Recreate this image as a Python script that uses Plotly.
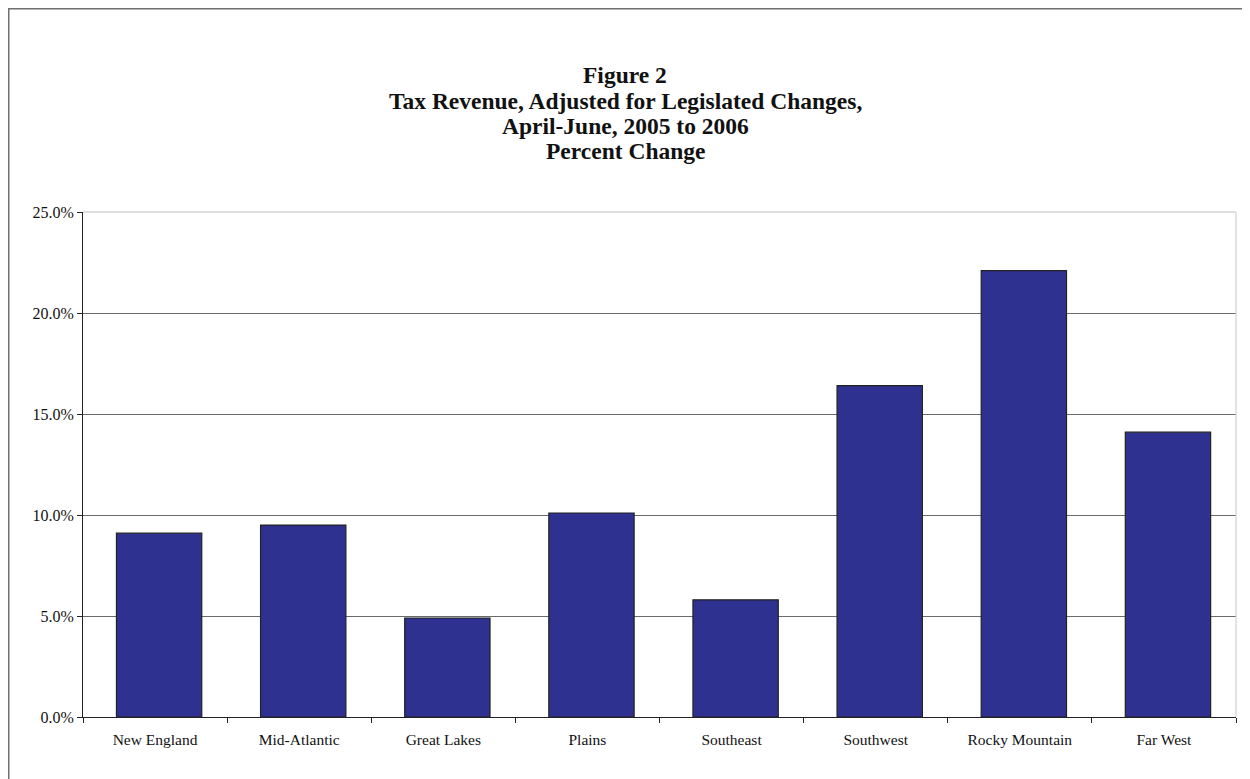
import plotly.graph_objects as go

regions = ["New England", "Mid-Atlantic", "Great Lakes", "Plains", "Southeast",
           "Southwest", "Rocky Mountain", "Far West"]
pct_change = [9.1, 9.5, 4.9, 10.1, 5.8, 16.4, 22.1, 14.1]
y_ticks = [0, 5, 10, 15, 20, 25]
y_tick_labels = ["0.0%", "5.0%", "10.0%", "15.0%", "20.0%", "25.0%"]

title_lines = ["Figure 2",
               "Tax Revenue, Adjusted for Legislated Changes,",
               "April-June, 2005 to 2006",
               "Percent Change"]

# page body has an 8px margin, so the figure is sized to fit the window
W, H = 1242, 771
ML, MR, MT, MB = 75, 14, 204, 62
pw, ph = W - ML - MR, H - MT - MB

fig = go.Figure()
fig.add_trace(go.Bar(
    x=regions, y=pct_change,
    width=0.592, offset=-0.268,
    marker=dict(color="#2E3190", line=dict(color="#222222", width=1.2)),
    hoverinfo="x+y",
))

SERIF = "Liberation Serif, Times New Roman, serif"
fig.update_layout(
    width=W, height=H,
    margin=dict(l=ML, r=MR, t=MT, b=MB),
    paper_bgcolor="white", plot_bgcolor="white",
    font=dict(family=SERIF, color="#111111", size=16),
    showlegend=False,
)

# title lines (tight single spacing, centred on the page as in the original)
line_y = [67, 92.5, 118, 143.5]  # figure-pixel centres
title_cx = 617                    # figure-pixel x centre
for txt, yy in zip(title_lines, line_y):
    fig.add_annotation(
        text="<b>" + txt + "</b>", showarrow=False,
        xref="paper", x=(title_cx - ML) / pw, xanchor="center",
        yref="paper", y=1 + (MT - yy) / ph, yanchor="middle",
        font=dict(family=SERIF, size=23.5, color="#111111"),
    )

fig.update_xaxes(
    type="category", tickson="boundaries", ticks="outside", ticklen=5,
    tickcolor="#222222", showline=True, linecolor="#222222", linewidth=1,
    showgrid=False, tickfont=dict(size=15.5), ticklabelstandoff=8,
)
fig.update_yaxes(
    range=[0, 25], tickvals=y_ticks, ticktext=y_tick_labels,
    ticks="outside", ticklen=5, tickcolor="#222222",
    showline=True, linecolor="#222222", linewidth=1,
    showgrid=True, gridcolor="#6a6a6a", gridwidth=1,
    zeroline=False, tickfont=dict(size=16),
)

# plot area right/top border (light gray)
fig.add_shape(type="line", xref="paper", yref="paper", x0=1, x1=1, y0=0, y1=1,
              line=dict(color="#c8c8c8", width=1))
fig.add_shape(type="line", xref="paper", yref="paper", x0=0, x1=1, y0=1, y1=1,
              line=dict(color="#c0c0c0", width=1))
# outer chart frame (runs off the right and bottom edges)
fig.add_shape(type="rect", xref="paper", yref="paper",
              x0=(0.75 - ML) / pw, x1=(W + 20 - ML) / pw,
              y0=-(MB + 20) / ph, y1=(ph + MT - 0.75) / ph,
              line=dict(color="#707070", width=1.5), fillcolor="rgba(0,0,0,0)", layer="below")

fig.write_html("out.html")
